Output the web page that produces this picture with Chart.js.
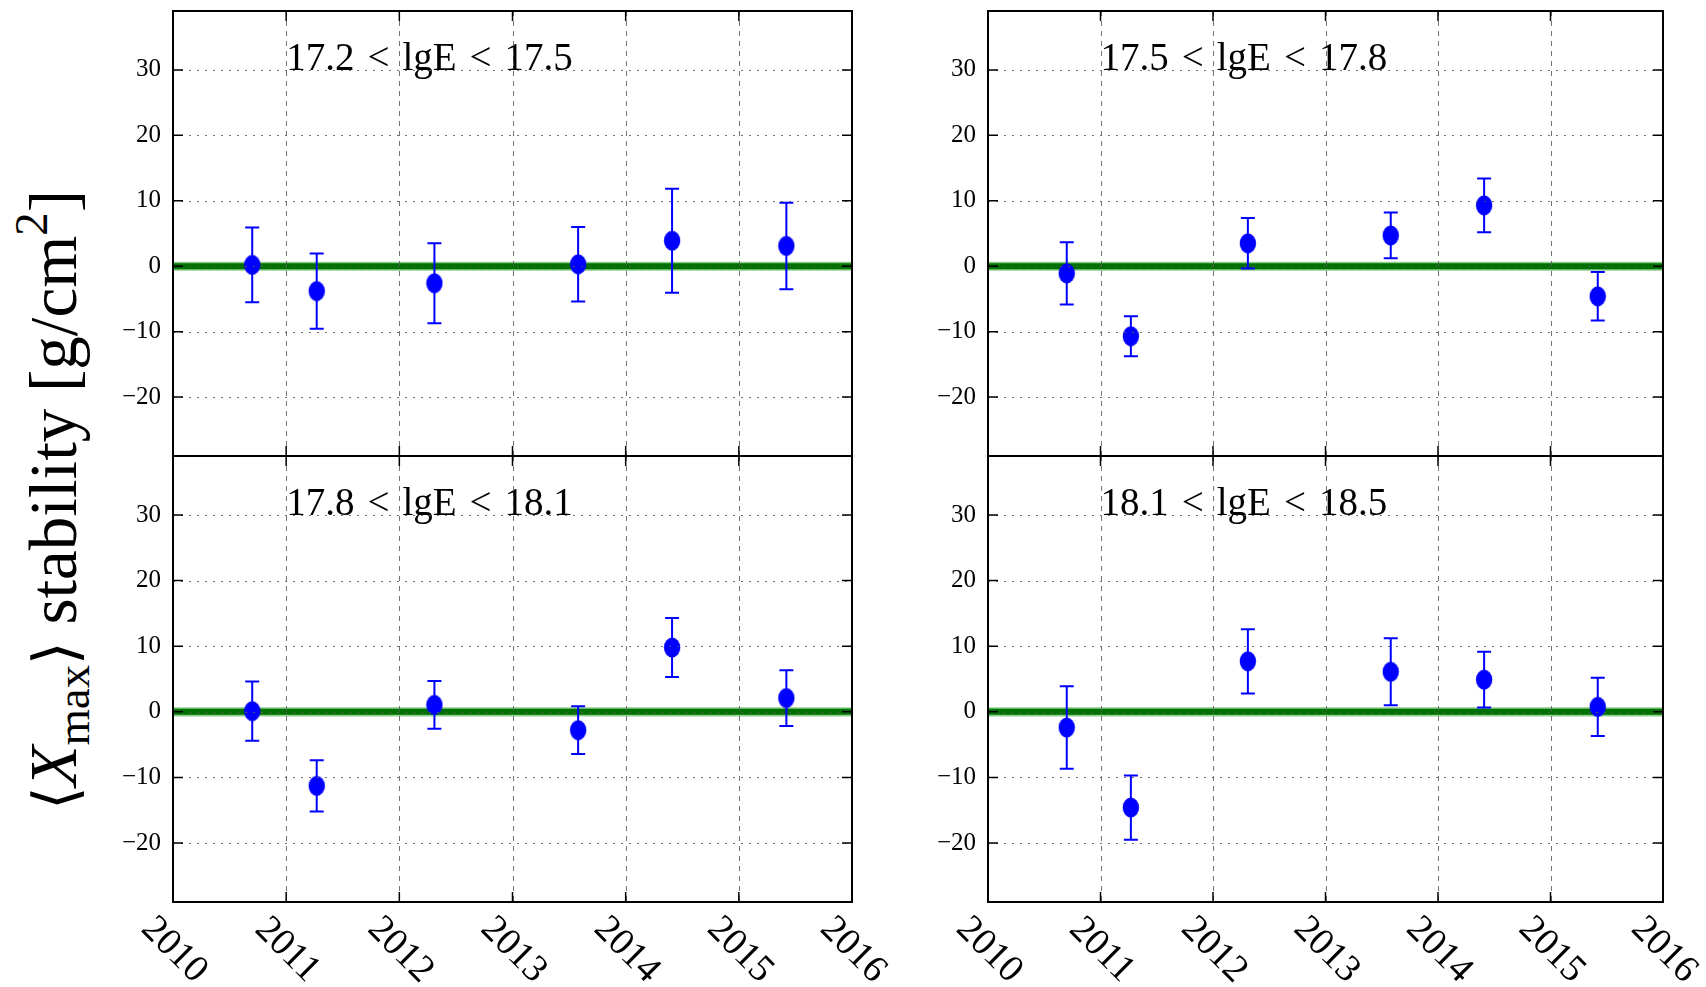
<!DOCTYPE html>
<html>
<head>
<meta charset="utf-8">
<script src="https://cdn.jsdelivr.net/npm/chart.js@4.4.1/dist/chart.umd.min.js"></script>
<style>
  html, body { margin:0; padding:0; background:#fff; }
  body { width:1706px; height:987px; position:relative; overflow:hidden; }
  canvas.panel { position:absolute; left:0; top:0; }
  #ylabel {
    position:absolute; left:53px; top:500px;
    transform: translate(-50%, -50%) rotate(-90deg);
    font-family: "Liberation Serif", "DejaVu Serif", serif;
    font-size: 67px; line-height: 1; white-space: nowrap; color:#000;
  }
  #ylabel sub { font-size:0.7em; vertical-align:-0.28em; line-height:0; }
  #ylabel sup { font-size:0.7em; vertical-align:0.6em; line-height:0; }
  #ylabel .br { font-family:"DejaVu Serif", serif; font-size:0.9em; }
</style>
</head>
<body>
<div id="ylabel"><span class="br">⟨</span><i>X</i><sub>max</sub><span class="br">⟩</span> stability [g/cm<sup>2</sup>]</div>

<script>
// ---------------- DATA ----------------
const years = [2010.70, 2011.27, 2012.31, 2013.58, 2014.41, 2015.42];

const panelLabels = [
  '17.2\u2004<\u2004lgE\u2004<\u200417.5',
  '17.5\u2004<\u2004lgE\u2004<\u200417.8',
  '17.8\u2004<\u2004lgE\u2004<\u200418.1',
  '18.1\u2004<\u2004lgE\u2004<\u200418.5'
];

const mean172 = [0.2, -3.8, -2.6, 0.3, 3.9, 3.1];
const err172  = [5.7, 5.75, 6.1, 5.7, 7.95, 6.6];

const mean175 = [-1.1, -10.7, 3.5, 4.7, 9.3, -4.6];
const err175  = [4.75, 3.05, 3.85, 3.5, 4.1, 3.7];

const mean178 = [0.1, -11.3, 1.05, -2.8, 9.8, 2.1];
const err178  = [4.5, 3.9, 3.65, 3.65, 4.5, 4.25];

const mean181 = [-2.4, -14.6, 7.7, 6.1, 4.9, 0.75];
const err181  = [6.3, 4.9, 4.9, 5.1, 4.25, 4.45];

const xTickValues = [2010, 2011, 2012, 2013, 2014, 2015, 2016];
const xTickLabels = ['2010', '2011', '2012', '2013', '2014', '2015', '2016'];
const yTickValues = [-20, -10, 0, 10, 20, 30];
const yTickLabels = ['\u221220', '\u221210', '0', '10', '20', '30'];

const referenceLevel = 0;
const referenceBand = 0.7;

// ---------------- LAYOUT ----------------
const W = 1706, H = 987;
const panels = [
  { mean: mean172, err: err172, label: panelLabels[0], left: 173, right: 852, top: 8,   bottom: 456, xlabels: false },
  { mean: mean175, err: err175, label: panelLabels[1], left: 988, right: 1663, top: 8,  bottom: 456, xlabels: false },
  { mean: mean178, err: err178, label: panelLabels[2], left: 173, right: 852, top: 456, bottom: 902, xlabels: true },
  { mean: mean181, err: err181, label: panelLabels[3], left: 988, right: 1663, top: 456, bottom: 902, xlabels: true }
];

const SERIF = '"Liberation Serif", "DejaVu Serif", serif';
const YAXIS_W = 60;

function makeMarker() {
  const c = document.createElement('canvas');
  c.width = 18; c.height = 21;
  const g = c.getContext('2d');
  g.fillStyle = '#0000ff';
  g.beginPath();
  g.ellipse(9, 10.5, 8.2, 9.9, 0, 0, Math.PI * 2);
  g.fill();
  return c;
}
const marker = makeMarker();

function makePlugin(p) {
  return {
    id: 'frameAndExtras',
    beforeDatasetDraw(chart, args) {
      if (args.index !== 3) return;
      const xs = chart.scales.x, ys = chart.scales.y;
      const ctx = chart.ctx;
      ctx.save();
      ctx.strokeStyle = '#0000ff';
      ctx.lineWidth = 2;
      for (let i = 0; i < years.length; i++) {
        const px = xs.getPixelForValue(years[i]);
        const y1 = ys.getPixelForValue(p.mean[i] + p.err[i]);
        const y2 = ys.getPixelForValue(p.mean[i] - p.err[i]);
        ctx.beginPath();
        ctx.moveTo(px, y1); ctx.lineTo(px, y2);
        ctx.moveTo(px - 7, y1); ctx.lineTo(px + 7, y1);
        ctx.moveTo(px - 7, y2); ctx.lineTo(px + 7, y2);
        ctx.stroke();
      }
      ctx.restore();
    },
    afterDatasetsDraw(chart) {
      const xs = chart.scales.x, ys = chart.scales.y;
      const ctx = chart.ctx;
      const a = chart.chartArea;
      ctx.save();
      ctx.fillStyle = '#000';
      ctx.font = '39px ' + SERIF;
      ctx.textAlign = 'left';
      ctx.textBaseline = 'alphabetic';
      ctx.fillText(p.label, xs.getPixelForValue(2011), ys.getPixelForValue(30));

      ctx.strokeStyle = 'rgba(90,90,90,0.85)';
      ctx.lineWidth = 1;
      ctx.setLineDash([5, 5]);
      for (const v of xTickValues) {
        if (v === 2010 || v === 2016) continue;
        const px = Math.round(xs.getPixelForValue(v)) + 0.5;
        ctx.beginPath(); ctx.moveTo(px, a.top); ctx.lineTo(px, a.bottom); ctx.stroke();
      }
      ctx.setLineDash([2, 6]);
      for (const v of yTickValues) {
        const py = Math.round(ys.getPixelForValue(v)) + 0.5;
        ctx.beginPath(); ctx.moveTo(a.left, py); ctx.lineTo(a.right, py); ctx.stroke();
      }
      ctx.setLineDash([]);

      ctx.strokeStyle = '#000';
      ctx.lineWidth = 1.5;
      const tl = 10;
      for (const v of yTickValues) {
        const py = ys.getPixelForValue(v);
        ctx.beginPath();
        ctx.moveTo(a.left, py); ctx.lineTo(a.left + tl, py);
        ctx.moveTo(a.right, py); ctx.lineTo(a.right - tl, py);
        ctx.stroke();
      }
      for (const v of xTickValues) {
        const px = xs.getPixelForValue(v);
        ctx.beginPath();
        ctx.moveTo(px, a.top); ctx.lineTo(px, a.top + tl);
        ctx.moveTo(px, a.bottom); ctx.lineTo(px, a.bottom - tl);
        ctx.stroke();
      }
      ctx.lineWidth = 2;
      ctx.strokeRect(a.left, a.top, a.right - a.left, a.bottom - a.top);

      if (p.xlabels) {
        ctx.font = '38px ' + SERIF;
        ctx.textAlign = 'center';
        ctx.textBaseline = 'middle';
        ctx.fillStyle = '#000';
        for (let i = 0; i < xTickValues.length; i++) {
          const px = xs.getPixelForValue(xTickValues[i]);
          ctx.save();
          ctx.translate(px + 1, a.bottom + 48);
          ctx.rotate(Math.PI / 4);
          ctx.fillText(xTickLabels[i], 0, 0);
          ctx.restore();
        }
      }
      ctx.restore();
    }
  };
}

panels.forEach((p) => {
  const cv = document.createElement('canvas');
  cv.className = 'panel';
  cv.width = W; cv.height = H;
  cv.style.width = W + 'px'; cv.style.height = H + 'px';
  document.body.appendChild(cv);

  new Chart(cv, {
    type: 'scatter',
    data: {
      datasets: [
        {
          type: 'line',
          data: [{ x: 2010, y: referenceLevel + referenceBand }, { x: 2016, y: referenceLevel + referenceBand }],
          borderWidth: 0, pointRadius: 0, fill: '+1',
          backgroundColor: 'rgba(0,150,0,0.45)', borderColor: 'rgba(0,0,0,0)', order: 4
        },
        {
          type: 'line',
          data: [{ x: 2010, y: referenceLevel - referenceBand }, { x: 2016, y: referenceLevel - referenceBand }],
          borderWidth: 0, pointRadius: 0, fill: false, borderColor: 'rgba(0,0,0,0)', order: 3
        },
        {
          type: 'line',
          data: [{ x: 2010, y: referenceLevel }, { x: 2016, y: referenceLevel }],
          borderWidth: 6, borderColor: 'rgb(0,112,0)', pointRadius: 0, fill: false, order: 2
        },
        {
          type: 'scatter',
          data: years.map((x, i) => ({ x, y: p.mean[i] })),
          pointStyle: marker, pointRadius: 10, order: 1
        }
      ]
    },
    options: {
      responsive: false,
      animation: false,
      devicePixelRatio: 1,
      clip: false,
      layout: {
        padding: { left: p.left - YAXIS_W, right: W - p.right, top: p.top, bottom: H - p.bottom }
      },
      plugins: { legend: { display: false }, tooltip: { enabled: false } },
      scales: {
        x: { type: 'linear', display: false, min: 2010, max: 2016 },
        y: {
          type: 'linear', min: -29, max: 39,
          grid: { display: false, drawTicks: false },
          border: { display: false },
          afterBuildTicks(s) { s.ticks = yTickValues.map(v => ({ value: v })); },
          afterFit(s) {
            s.width = YAXIS_W;
            s.paddingTop = 0; s.paddingBottom = 0; s.paddingLeft = 0; s.paddingRight = 0;
          },
          ticks: {
            padding: 12,
            color: '#000',
            font: { family: SERIF, size: 25 },
            callback(v) { const i = yTickValues.indexOf(v); return i >= 0 ? yTickLabels[i] : ''; }
          }
        }
      }
    },
    plugins: [makePlugin(p)]
  });
});
</script>
</body>
</html>
